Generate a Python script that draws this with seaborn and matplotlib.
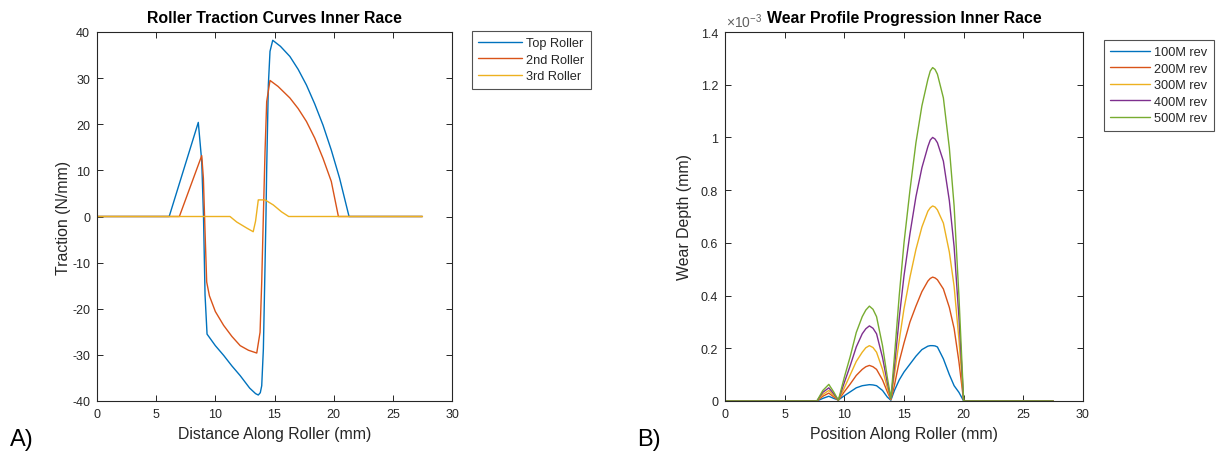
import numpy as np
import pandas as pd
import matplotlib
matplotlib.use("Agg")
import matplotlib.pyplot as plt
import seaborn as sns
from matplotlib.ticker import FixedLocator, FuncFormatter

# ---------------- data ----------------
# Panel A: roller traction (N/mm) vs distance along roller (mm)
top_x = [0, 6.1, 8.56, 8.85, 9.0, 9.13, 9.3, 10.0, 10.7, 11.4, 12.1, 12.9, 13.4, 13.63, 13.8,
         13.92, 14.06, 14.2, 14.28, 14.34, 14.48, 14.62, 14.85, 15.5, 16.3, 17.0, 17.7, 18.4,
         19.1, 19.8, 20.5, 21.3, 27.5]
top_y = [0, 0, 20.4, 12.0, 0.0, -17.0, -25.5, -28.0, -30.1, -32.4, -34.5, -37.2, -38.4, -38.7, -38.2,
         -36.7, -28.7, -10.6, 0.3, 10.4, 28.5, 35.8, 38.2, 36.9, 34.7, 31.9, 28.5, 24.4,
         19.8, 14.4, 8.3, 0, 0]

second_x = [0, 6.96, 8.85, 8.99, 9.13, 9.27, 9.5, 10.0, 10.7, 11.4, 12.1, 12.8, 13.5, 13.78,
            13.92, 14.06, 14.2, 14.34, 14.62, 15.3, 16.3, 17.0, 17.7, 18.4, 19.1, 19.8, 20.4, 27.5]
second_y = [0, 0, 13.2, 8.3, -3.3, -14.2, -17.2, -20.6, -23.6, -26.0, -28.0, -29.0, -29.6, -25.1,
            -14.2, 0.3, 14.1, 24.9, 29.5, 28.2, 25.7, 23.4, 20.6, 17.0, 12.6, 7.6, 0, 0]

third_x = [0, 11.24, 11.81, 12.65, 13.2, 13.4, 13.63, 14.2, 14.9, 15.6, 16.2, 27.5]
third_y = [0, 0, -1.2, -2.5, -3.3, -1.0, 3.6, 3.6, 2.5, 1.0, 0, 0]

traction_labels = ["Top Roller", "2nd Roller", "3rd Roller"]

# Panel B: wear depth (x 1e-3 mm) vs position along roller (mm)
wear_x = [0, 7.7, 8.2, 8.7, 9.1, 9.5, 10.0, 10.5, 11.0, 11.5, 11.8, 12.1, 12.4, 12.7, 13.2, 13.6, 13.9,
          14.2, 14.6, 15.0, 15.5, 16.0, 16.5, 17.0, 17.2, 17.4, 17.6, 17.8, 18.3, 18.8, 19.2, 19.6, 20.0, 27.5]
wear_100M = [0, 0, 0.010, 0.018, 0.010, 0.004, 0.020, 0.035, 0.050, 0.058, 0.060, 0.062, 0.061, 0.058, 0.040, 0.015, 0.003,
             0.040, 0.080, 0.110, 0.140, 0.170, 0.195, 0.208, 0.210, 0.210, 0.209, 0.205, 0.160, 0.100, 0.058, 0.033, 0, 0]
wear_200M = [0, 0, 0.018, 0.030, 0.016, 0.003, 0.035, 0.065, 0.097, 0.120, 0.130, 0.135, 0.130, 0.120, 0.080, 0.035, 0.005,
             0.060, 0.150, 0.220, 0.300, 0.360, 0.415, 0.455, 0.465, 0.470, 0.467, 0.460, 0.425, 0.355, 0.275, 0.150, 0, 0]
wear_300M = [0, 0, 0.025, 0.040, 0.022, 0.003, 0.050, 0.100, 0.150, 0.185, 0.202, 0.210, 0.203, 0.185, 0.120, 0.050, 0.006,
             0.100, 0.230, 0.350, 0.470, 0.575, 0.660, 0.720, 0.733, 0.740, 0.736, 0.725, 0.675, 0.565, 0.435, 0.235, 0, 0]
wear_400M = [0, 0, 0.033, 0.050, 0.028, 0.003, 0.070, 0.135, 0.205, 0.255, 0.274, 0.285, 0.276, 0.255, 0.165, 0.070, 0.008,
             0.130, 0.315, 0.475, 0.635, 0.775, 0.885, 0.965, 0.990, 1.000, 0.994, 0.980, 0.910, 0.760, 0.585, 0.320, 0, 0]
wear_500M = [0, 0, 0.040, 0.063, 0.035, 0.003, 0.090, 0.170, 0.260, 0.320, 0.345, 0.360, 0.348, 0.320, 0.210, 0.090, 0.010,
             0.170, 0.400, 0.600, 0.800, 0.980, 1.120, 1.220, 1.252, 1.265, 1.258, 1.240, 1.150, 0.960, 0.740, 0.400, 0, 0]
wear_labels = ["100M rev", "200M rev", "300M rev", "400M rev", "500M rev"]

x_ticks = [0, 5, 10, 15, 20, 25, 30]
traction_ticks = [-40, -30, -20, -10, 0, 10, 20, 30, 40]
wear_ticks = [0, 0.2, 0.4, 0.6, 0.8, 1.0, 1.2, 1.4]

matlab_colors = ["#0072BD", "#D95319", "#EDB120", "#7E2F8E", "#77AC30"]

# ---------------- style ----------------
sns.set_theme(style="white")
plt.rcParams["font.family"] = ["Liberation Sans", "DejaVu Sans"]
plt.rcParams["axes.unicode_minus"] = False
plt.rcParams["mathtext.fontset"] = "custom"
plt.rcParams["mathtext.rm"] = "Liberation Sans"
plt.rcParams["mathtext.it"] = "Liberation Sans:italic"
AX_COLOR = "#262626"

fig = plt.figure(figsize=(12.18, 4.52), dpi=100)
fig.patch.set_facecolor("white")
ax1 = fig.add_axes([97 / 1218, 1 - 402 / 452, 355 / 1218, 369 / 452])
ax2 = fig.add_axes([725 / 1218, 1 - 402 / 452, 358 / 1218, 369 / 452])

# Panel A
trac_df = pd.concat([
    pd.DataFrame({"x": top_x, "y": top_y, "s": traction_labels[0]}),
    pd.DataFrame({"x": second_x, "y": second_y, "s": traction_labels[1]}),
    pd.DataFrame({"x": third_x, "y": third_y, "s": traction_labels[2]}),
], ignore_index=True)
for i, lab in enumerate(traction_labels):
    sub = trac_df[trac_df["s"] == lab]
    sns.lineplot(data=sub, x="x", y="y", ax=ax1, color=matlab_colors[i], lw=1.0,
                 label=lab, sort=False, estimator=None)

# Panel B
wear_series = [wear_100M, wear_200M, wear_300M, wear_400M, wear_500M]
wear_df = pd.concat([pd.DataFrame({"x": wear_x, "y": v, "s": lab})
                     for v, lab in zip(wear_series, wear_labels)], ignore_index=True)
for i, lab in enumerate(wear_labels):
    sub = wear_df[wear_df["s"] == lab]
    sns.lineplot(data=sub, x="x", y="y", ax=ax2, color=matlab_colors[i], lw=1.0,
                 label=lab, sort=False, estimator=None)


def style_axes(ax):
    for sp in ax.spines.values():
        sp.set_visible(True)
        sp.set_color(AX_COLOR)
        sp.set_linewidth(0.8)
    ax.tick_params(direction="in", length=4, width=0.7, color=AX_COLOR, labelcolor=AX_COLOR,
                   labelsize=9, top=True, right=True, bottom=True, left=True, pad=5)
    ax.grid(False)
    ax.set_facecolor("white")


style_axes(ax1)
ax1.set_xlim(0, 30)
ax1.set_ylim(-40, 40)
ax1.xaxis.set_major_locator(FixedLocator(x_ticks))
ax1.yaxis.set_major_locator(FixedLocator(traction_ticks))
ax1.set_title("Roller Traction Curves Inner Race", fontsize=11.4, fontweight="bold", color="black", pad=7)
ax1.set_xlabel("Distance Along Roller (mm)", fontsize=11.4, color=AX_COLOR, labelpad=4)
ax1.set_ylabel("Traction (N/mm)", fontsize=11.4, color=AX_COLOR, labelpad=1)

style_axes(ax2)
ax2.set_xlim(0, 30)
ax2.set_ylim(0, 1.4)
ax2.xaxis.set_major_locator(FixedLocator(x_ticks))
ax2.yaxis.set_major_locator(FixedLocator(wear_ticks))
ax2.yaxis.set_major_formatter(FuncFormatter(lambda v, p: f"{v:g}"))
ax2.set_title("Wear Profile Progression Inner Race", fontsize=11.4, fontweight="bold", color="black", pad=7)
ax2.set_xlabel("Position Along Roller (mm)", fontsize=11.4, color=AX_COLOR, labelpad=4)
ax2.set_ylabel("Wear Depth (mm)", fontsize=11.4, color=AX_COLOR, labelpad=6)
ax2.text(0.003, 1.006, r"$\times10^{-3}$", transform=ax2.transAxes, ha="left", va="bottom",
         fontsize=10, color="#606060")

leg_kw = dict(loc="upper left", bbox_transform=fig.transFigure, borderaxespad=0, fancybox=False,
              frameon=True, edgecolor=AX_COLOR, fontsize=9.2, handletextpad=0.35,
              labelspacing=0.35, borderpad=0.5)
l1 = ax1.legend(bbox_to_anchor=(472 / 1218, 1 - 32 / 452), handlelength=3.4, **leg_kw)
l2 = ax2.legend(bbox_to_anchor=(1104 / 1218, 1 - 41 / 452), handlelength=3.1, **leg_kw)
for lg in (l1, l2):
    lg.get_frame().set_linewidth(0.8)
    lg.get_frame().set_facecolor("white")
    for t in lg.get_texts():
        t.set_color(AX_COLOR)

fig.text(10 / 1218, 1 / 452, "A)", fontsize=17, color="black", ha="left", va="bottom")
fig.text(637 / 1218, 1 / 452, "B)", fontsize=17, color="black", ha="left", va="bottom")

fig.savefig("out.png", dpi=100, facecolor="white")
